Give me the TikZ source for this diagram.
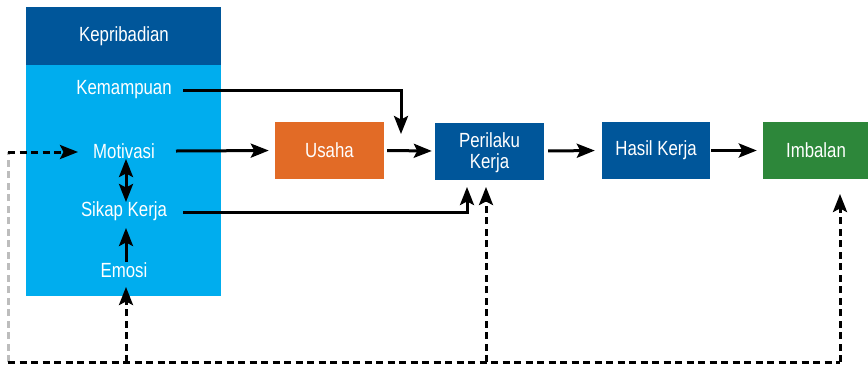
\documentclass[tikz,border=0pt]{standalone}
\usepackage{fontspec}
\setmainfont{Liberation Sans}[FakeStretch=0.82]
\usetikzlibrary{arrows.meta}
\definecolor{kdark}{HTML}{00569A}
\definecolor{klight}{HTML}{00ADEE}
\definecolor{korange}{HTML}{E26B26}
\definecolor{kgreen}{HTML}{2D873A}
\definecolor{kgray}{HTML}{BDBDBD}
\tikzset{ktip/.tip={Stealth[length=18pt,width=14pt,inset=3.5pt]}}
\begin{document}
\begin{tikzpicture}[x=1pt,y=-1pt,
  txt/.style={text=white, font=\fontsize{20.5}{21}\selectfont, inner sep=0pt, align=center},
  blk/.style={txt, minimum width=109pt, minimum height=57pt},
  arr/.style={line width=3pt, -ktip},
  dsh/.style={arr, dash pattern=on 7pt off 4.5pt},
  dline/.style={line width=3pt, dash pattern=on 7pt off 4.5pt},
]
\useasboundingbox (0,0) rectangle (868,365);
% Kepribadian block
\node[fill=kdark, minimum width=195pt, minimum height=58pt, inner sep=0pt, anchor=north west] (head) at (26,7) {};
\node[fill=klight, minimum width=195pt, minimum height=231pt, inner sep=0pt, anchor=north west] (body) at (26,65) {};
\node[txt] (kep) at (124,36) {Kepribadian};
\node[txt] (kem) at (124,90) {Kemampuan};
\node[txt] (mot) at (124,151) {Motivasi};
\node[txt] (sik) at (124,211) {Sikap Kerja};
\node[txt] (emo) at (124,270) {Emosi};
% process boxes
\node[blk, fill=korange] (usaha) at (329.5,150.5) {Usaha};
\node[blk, fill=kdark] (peri) at (489.5,151) {};
\node[txt] (peritxt) at (489.5,153) {Perilaku\\Kerja};
\node[blk, fill=kdark, minimum width=108pt] (hasil) at (656,150.5) {Hasil Kerja};
\node[blk, fill=kgreen, minimum width=106pt] (imb) at (816,150.5) {Imbalan};
% coordinates
\coordinate (kemS) at (183,90);
\coordinate (kemE) at (401,134);
\coordinate (motS) at (176,151);
\coordinate (sikS) at (183,212);
\coordinate (sikE) at (467,187);
\coordinate (msTop) at (126,159);
\coordinate (msBot) at (126,202);
\coordinate (emS) at (126,262);
\coordinate (emE) at (126,228);
\coordinate (bl) at (8,362);
\coordinate (lt) at (8,152);
\coordinate (motE) at (78,152);
\coordinate (emoE) at (126,287);
\coordinate (periE) at (486,187);
\coordinate (imbE) at (840,194);
\coordinate (bE) at (126,362);
\coordinate (bP) at (486,362);
\coordinate (bI) at (840,362);
% solid connectors
\draw[arr] (kemS) -| (kemE);
\draw[arr, shorten >=6pt] (motS) -- (usaha.west);
\draw[arr, shorten <=3pt, shorten >=3pt] (usaha.east) -- (peri.west);
\draw[arr] (sikS) -| (sikE);
\draw[arr, shorten <=4pt, shorten >=7pt] (peri.east) -- (hasil.west);
\draw[arr, shorten <=1pt, shorten >=6pt] (hasil.east) -- (imb.west);
\draw[line width=3pt, ktip-ktip] (msTop) -- (msBot);
\draw[arr] (emS) -- (emE);
% dashed feedback
\draw[line width=3pt, kgray, dash pattern=on 7pt off 4.5pt] (bl) -- (lt);
\draw[dsh] (lt) -- (motE);
\draw[dline] (bl) -- (bI);
\draw[dsh] (bI) -- (imbE);
\draw[dsh] (bE) -- (emoE);
\draw[dsh] (bP) -- (periE);
\end{tikzpicture}
\end{document}
